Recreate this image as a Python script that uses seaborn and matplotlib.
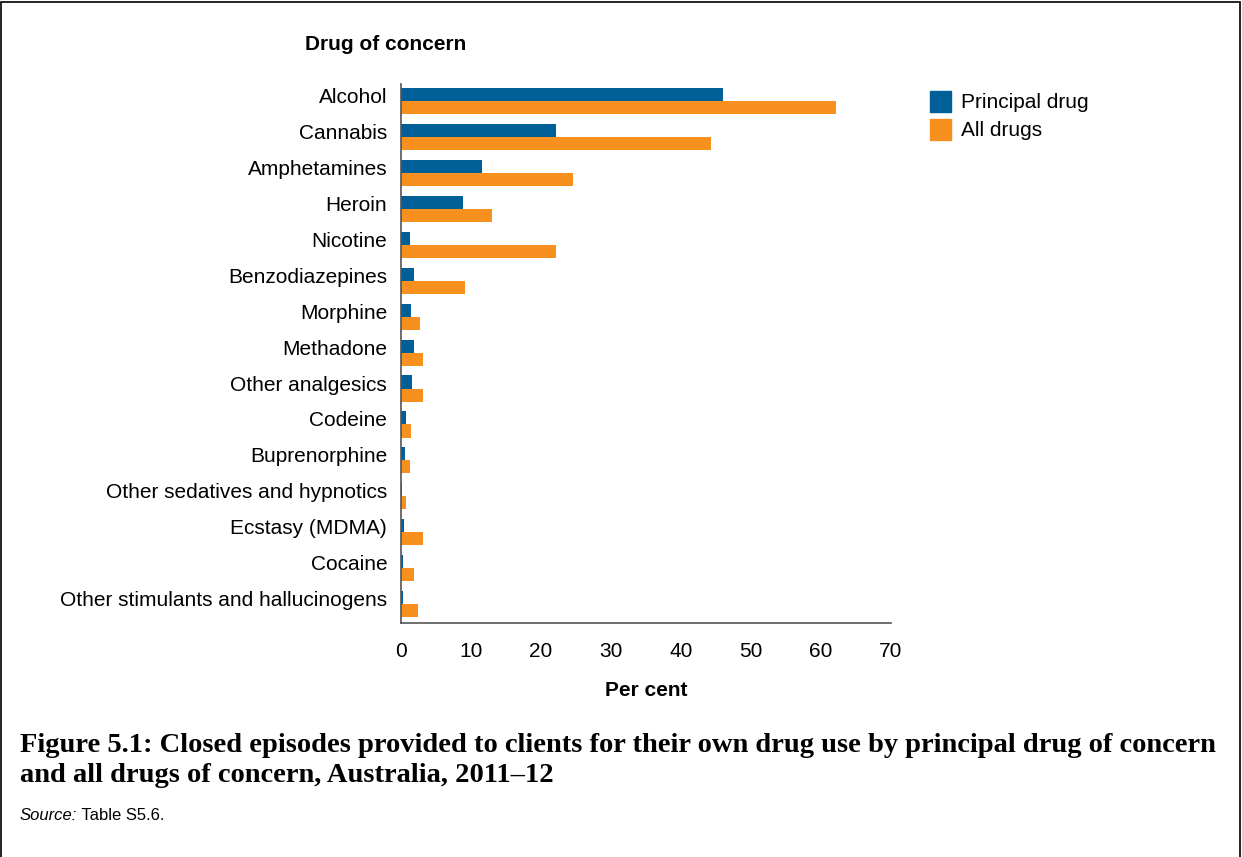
import pandas as pd
import matplotlib.pyplot as plt
import matplotlib.transforms as mtransforms
import seaborn as sns
from matplotlib.patches import Rectangle

drugs = ['Alcohol', 'Cannabis', 'Amphetamines', 'Heroin', 'Nicotine',
         'Benzodiazepines', 'Morphine', 'Methadone', 'Other analgesics',
         'Codeine', 'Buprenorphine', 'Other sedatives and hypnotics',
         'Ecstasy (MDMA)', 'Cocaine', 'Other stimulants and hallucinogens']
principal = [46.0, 22.1, 11.6, 8.9, 1.3, 1.8, 1.4, 1.9, 1.5, 0.7, 0.6, 0.2, 0.4, 0.3, 0.3]
all_drugs = [62.1, 44.3, 24.6, 13.0, 22.2, 9.1, 2.7, 3.1, 3.1, 1.4, 1.3, 0.7, 3.2, 1.8, 2.4]

df = pd.DataFrame({
    'Drug': drugs * 2,
    'Per cent': principal + all_drugs,
    'Series': ['Principal drug'] * len(drugs) + ['All drugs'] * len(drugs),
})

sns.set_style("white")
plt.rcParams['font.family'] = ['Liberation Sans', 'DejaVu Sans']
plt.rcParams['text.color'] = 'black'
plt.rcParams['axes.labelcolor'] = 'black'

fig = plt.figure(figsize=(12.42, 8.57), dpi=100)
ax = fig.add_axes([0.3229, 0.2734, 0.3945, 0.6282])

sns.barplot(data=df, y='Drug', x='Per cent', hue='Series', orient='h',
            palette=['#005F96', '#F7901E'], width=0.73, saturation=1,
            linewidth=0, ax=ax, legend=False)

ax.set_xlim(0, 70)
ax.set_ylim(14.52, -0.47)
ax.set_xticks(range(0, 71, 10))
ax.tick_params(axis='x', labelsize=15, length=6, width=1, color='#444444',
               direction='out', pad=8, labelcolor='black')
ax.tick_params(axis='y', labelsize=15, length=0, pad=10, labelcolor='black')
# category labels sit a little above the bar pair centre
shift = mtransforms.ScaledTranslation(0, 5.5 / 100, fig.dpi_scale_trans)
for lbl in ax.get_yticklabels():
    lbl.set_transform(lbl.get_transform() + shift)
ax.set_ylabel('')
ax.set_xlabel('Per cent', fontsize=15, fontweight='bold', labelpad=14)
for s in ['top', 'right']:
    ax.spines[s].set_visible(False)
for s in ['left', 'bottom']:
    ax.spines[s].set_color('#555555')
    ax.spines[s].set_linewidth(1.2)

fig.text(305 / 1242, 1 - 45 / 857, 'Drug of concern', fontsize=15,
         fontweight='bold', va='center', ha='left')

# legend
for i, (lab, col) in enumerate([('Principal drug', '#005F96'), ('All drugs', '#F7901E')]):
    y = 101 + i * 28
    fig.patches.append(Rectangle((930 / 1242, 1 - (y + 11) / 857), 21 / 1242, 21 / 857,
                                 transform=fig.transFigure, color=col))
    fig.text(961 / 1242, 1 - (y + 1) / 857, lab, fontsize=15, va='center', ha='left')

serif = ['Liberation Serif', 'DejaVu Serif']
fig.text(20 / 1242, 1 - 746 / 857,
         'Figure 5.1: Closed episodes provided to clients for their own drug use by principal drug of concern',
         family=serif, fontweight='bold', fontsize=20.5, va='center', ha='left')
fig.text(20 / 1242, 1 - 776 / 857, 'and all drugs of concern, Australia, 2011\u201312',
         family=serif, fontweight='bold', fontsize=20.5, va='center', ha='left')
src = fig.text(20 / 1242, 1 - 816 / 857, 'Source:', fontsize=12, style='italic',
               va='center', ha='left')
fig.texts.append(plt.Annotation(' Table S5.6.', xy=(1, 0.5), xycoords=src,
                                fontsize=12, va='center', ha='left'))
fig.texts[-1].set_figure(fig)

fig.patches.append(Rectangle((1 / 1242, -0.05), 1239 / 1242, 1.05 - 1.5 / 857,
                             transform=fig.transFigure, fill=False,
                             edgecolor='black', linewidth=1.2))

fig.savefig('out.png', dpi=100)
